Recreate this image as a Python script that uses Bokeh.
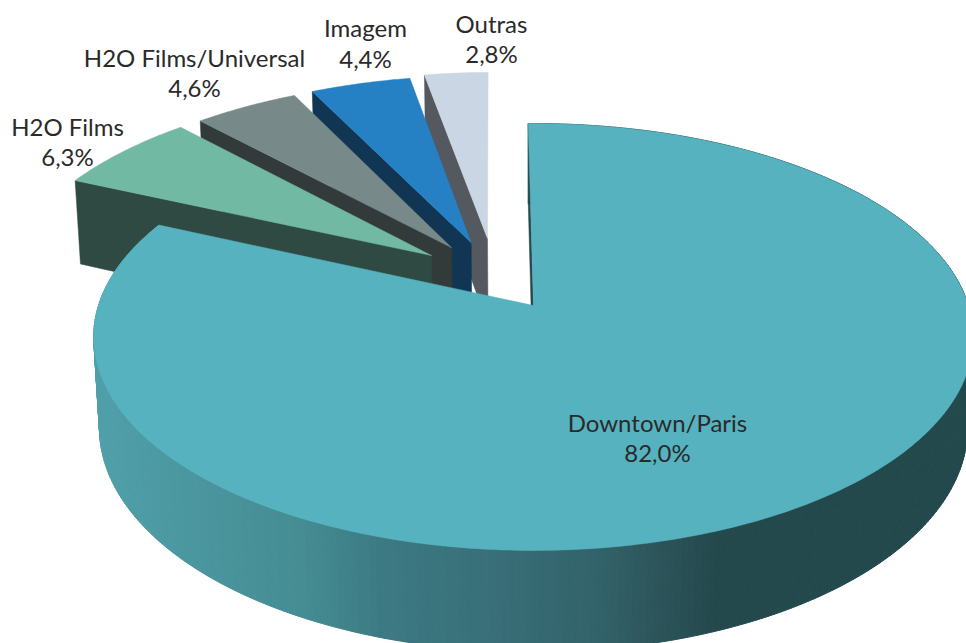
import numpy as np
from bokeh.plotting import figure
from bokeh.models import ColumnDataSource, Range1d
from bokeh.core.properties import value
from bokeh.embed import file_html
from bokeh.resources import INLINE

# data
names = ["Downtown/Paris", "H2O Films", "H2O Films/Universal", "Imagem", "Outras"]
shares = [82.0, 6.3, 4.6, 4.4, 2.8]
share_labels = ["82,0%", "6,3%", "4,6%", "4,4%", "2,8%"]

# style
top_colors = ["#56b2be", "#72b9a3", "#78898a", "#2580c4", "#cad6e3"]
side_colors = ["#234a4e", "#2f4a42", "#323a3a", "#103654", "#54585f"]
explode = [(0.0, 0.0), (-0.243, 0.248), (-0.196, 0.288), (-0.150, 0.314), (-0.111, 0.337)]
label_xy = [(657, 422, 452), (67, 126, 156), (194, 57, 87), (365, 27, 58), (491, 23, 53)]
grad_x = [90, 300, 380, 500, 600, 650, 715, 970]
grad_rgb = [(80, 160, 170), (69, 140, 147), (60, 122, 131), (56, 110, 120),
            (50, 98, 105), (45, 86, 92), (35, 73, 77), (35, 73, 77)]
FONT = "Lato"
FONT_SIZE = "24px"

# projection of the disc to the picture
CX, CY, A, B, K, M, C = 533.0, 305.0, 435.0, 208.8, 0.1475, 0.013, 91.0
ROT = -0.8


def proj(u, v, d=0.0):
    u, v = np.asarray(u, float), np.asarray(v, float)
    w = 1 + K * v + M * d
    return CX + A * u / w, CY - (B * v - C * d) / w


def rim(a0, a1, n):
    t = np.radians(np.linspace(a0, a1, n))
    return np.sin(t), np.cos(t)


total = sum(shares)
edges = np.concatenate([[0], np.cumsum(shares)]) / total * 360 + ROT

p = figure(width=966, height=643, x_range=Range1d(0, 966), y_range=Range1d(643, 0),
           output_backend="svg", toolbar_location=None, min_border=0, outline_line_color=None)
p.axis.visible = False
p.grid.visible = False
p.background_fill_color = "white"
p.border_fill_color = "white"

# exploded slices, back to front
for i in [4, 3, 2, 1]:
    ex, ey = explode[i]
    u, v = rim(edges[i], edges[i + 1], 40)
    u, v = u + ex, v + ey
    wu = np.array([ex, u[0]])
    wv = np.array([ey, v[0]])
    x0, y0 = proj(wu, wv, 0.0)
    x1, y1 = proj(wu, wv, 1.0)
    p.patch(np.r_[x0, x1[::-1]], np.r_[y0, y1[::-1]], fill_color=side_colors[i], line_color=side_colors[i], line_width=0.5)
    xs, ys = proj(np.r_[ex, u], np.r_[ey, v], 0.0)
    p.patch(xs, ys, fill_color=top_colors[i], line_color=top_colors[i], line_width=0.5)

# main slice: outer wall with a left-to-right shade
u, v = rim(edges[0], edges[1], 361)
xt, yt = proj(u, v, 0.0)
xb, yb = proj(u, v, 1.0)
qx, qy, qc = [], [], []
for j in range(len(u) - 1):
    mid = (xt[j] + xt[j + 1]) / 2
    rgb = [int(round(np.interp(mid, grad_x, [g[k] for g in grad_rgb]))) for k in range(3)]
    qx.append([xt[j], xt[j + 1], xb[j + 1], xb[j]])
    qy.append([yt[j], yt[j + 1], yb[j + 1], yb[j]])
    qc.append("#%02x%02x%02x" % tuple(rgb))
p.patches("x", "y", source=ColumnDataSource(dict(x=qx, y=qy, c=qc)), fill_color="c", line_color="c", line_width=1)

# main slice: inner wall at its start edge
wu = np.array([0.0, u[0]])
wv = np.array([0.0, v[0]])
x0, y0 = proj(wu, wv, 0.0)
x1, y1 = proj(wu, wv, 1.0)
p.patch(np.r_[x0, x1[::-1]], np.r_[y0, y1[::-1]], fill_color=side_colors[0], line_color=side_colors[0], line_width=0.5)

# main slice: top face
xs, ys = proj(np.r_[0.0, u], np.r_[0.0, v], 0.0)
p.patch(xs, ys, fill_color=top_colors[0], line_color=top_colors[0], line_width=0.5)

# labels
p.text([l[0] for l in label_xy], [l[1] for l in label_xy], text=names, text_font=value(FONT), text_font_size=FONT_SIZE,
       text_align="center", text_baseline="middle", text_color="#2a2a2a")
p.text([l[0] for l in label_xy], [l[2] for l in label_xy], text=share_labels, text_font=value(FONT), text_font_size=FONT_SIZE,
       text_align="center", text_baseline="middle", text_color="#2a2a2a")

open("out.html", "w").write(file_html(p, INLINE))
